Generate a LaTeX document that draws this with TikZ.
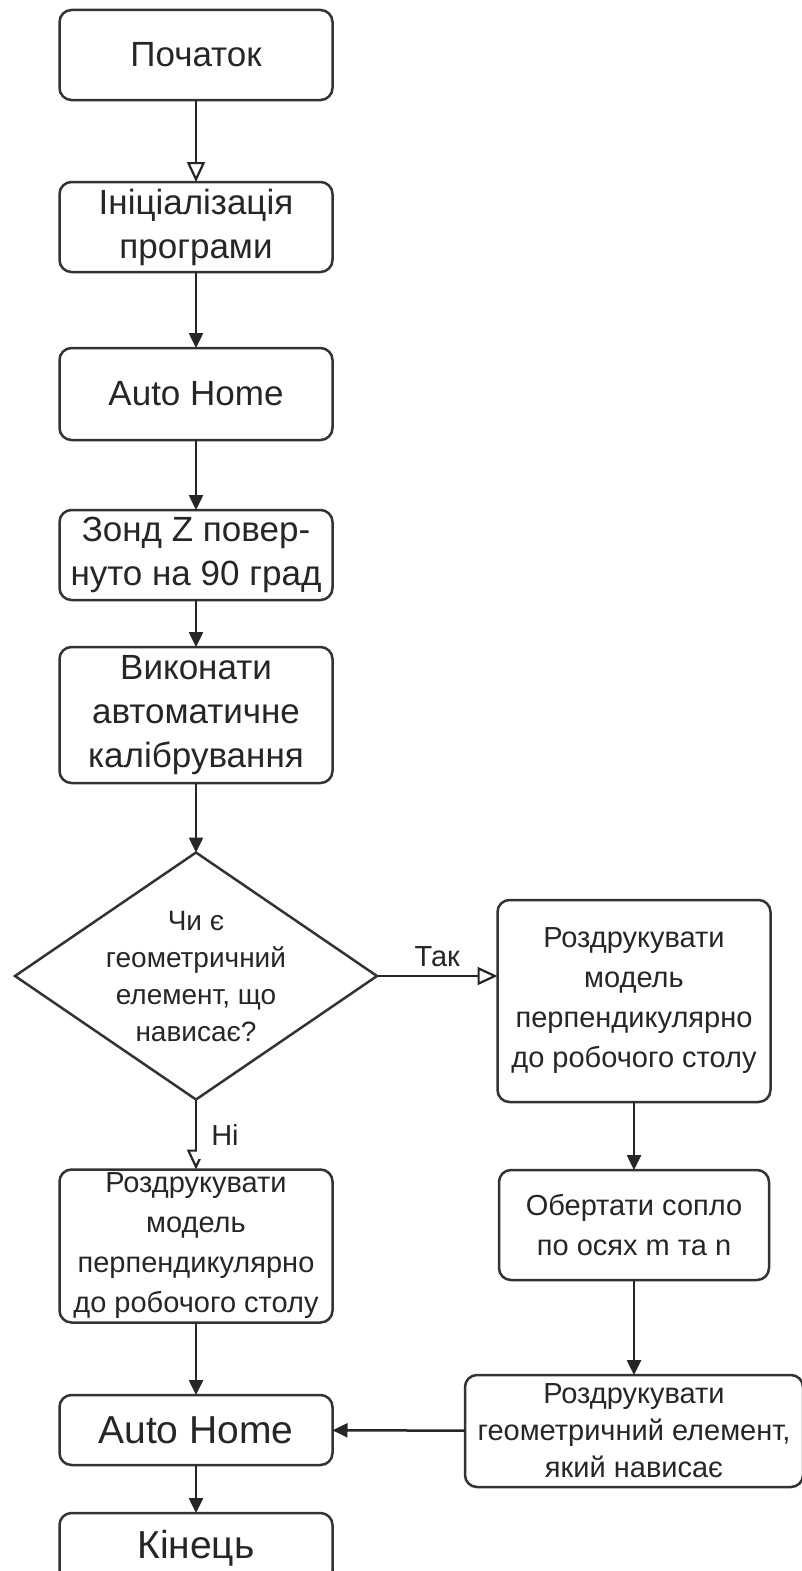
\documentclass[tikz,border=0pt]{standalone}
\usepackage{fontspec}
\setmainfont{Liberation Sans}
\usepackage{tkz-graph}
\usetikzlibrary{arrows.meta}
\usetikzlibrary{shapes}

\begin{document}
\begin{tikzpicture}[x = 1pt, y = -1pt]
\useasboundingbox (0,0) rectangle (802,1571);
\clip (0,0) rectangle (802,1571);
\tikzstyle{VertexStyle} = []
\tikzstyle{EdgeStyle} = [draw = black!85, line width = 2.5pt]
\tikzstyle{LabelStyle} = [font = \fontsize{29}{34}\selectfont, text = black!85]
\tikzstyle{boxStyle} = [shape = rectangle, rounded corners = 12pt, draw = black!80, line width = 2.5pt, inner sep = 0pt, align = center, text = black!85, minimum width = 273pt, font = \fontsize{35}{44}\selectfont]
\tikzstyle{bigStyle} = [boxStyle, minimum height = 70pt, font = \fontsize{39}{44}\selectfont]
\tikzstyle{sideStyle} = [boxStyle, font = \fontsize{29}{40}\selectfont]
\tikzstyle{wideStyle} = [boxStyle, minimum width = 338pt, font = \fontsize{29}{37}\selectfont]
\tikzstyle{decisionStyle} = [shape = diamond, draw = black!80, line width = 2.5pt, inner sep = -40pt, align = center, text = black!85, minimum width = 362pt, minimum height = 247pt, font = \fontsize{28}{37}\selectfont]
\tikzstyle{openArrow} = [-{Triangle[open, length = 20pt, width = 18pt, line width = 2.2pt]}]
\tikzstyle{fullArrow} = [-{Triangle[length = 15pt, width = 14pt]}]
\tikzstyle{thinArrow} = [-{Triangle[length = 15pt, width = 14pt]}, draw = black!60, fill = black!85, line width = 1.8pt]
\Vertex[style = {boxStyle, minimum height = 90pt}, x = 196, y = 55, L = {Початок}]{v0}
\Vertex[style = {boxStyle, minimum height = 90pt}, x = 196, y = 227, L = {Ініціалізація\\програми}]{v1}
\Vertex[style = {boxStyle, minimum height = 92pt}, x = 196, y = 394, L = {Auto Home}]{v2}
\Vertex[style = {boxStyle, minimum height = 90pt}, x = 196, y = 555, L = {Зонд Z повер-\\нуто на 90 град}]{v3}
\Vertex[style = {boxStyle, minimum height = 136pt}, x = 196, y = 715, L = {Виконати\\автоматичне\\калібрування}]{v4}
\Vertex[style = decisionStyle, x = 196, y = 976, L = {Чи є\\геометричний\\елемент, що\\нависає?}]{v5}
\Vertex[style = {sideStyle, minimum height = 202pt}, x = 634, y = 1001, L = {Роздрукувати\\модель\\перпендикулярно\\до робочого столу}]{v6}
\Vertex[style = {sideStyle, minimum height = 153pt}, x = 196, y = 1246, L = {Роздрукувати\\модель\\перпендикулярно\\до робочого столу}]{v7}
\Vertex[style = {sideStyle, minimum height = 110pt, minimum width = 270pt}, x = 634, y = 1225, L = {Обертати сопло\\по осях m та n}]{v8}
\Vertex[style = {wideStyle, minimum height = 112pt}, x = 634, y = 1431, L = {Роздрукувати\\геометричний елемент,\\який нависає}]{v9}
\Vertex[style = bigStyle, x = 196, y = 1430, L = {Auto Home}]{v10}
\Vertex[style = bigStyle, x = 196, y = 1548, L = {Кінець}]{v11}
\Edge[style = openArrow](v0)(v1)
\Edge[style = fullArrow](v1)(v2)
\Edge[style = fullArrow](v2)(v3)
\Edge[style = fullArrow](v3)(v4)
\Edge[style = fullArrow](v4)(v5)
\Edge[style = openArrow, label = {Так}, labelstyle = {above, inner sep = 8pt}](v5)(v6.west |- v5)
\Edge[style = openArrow, label = {Ні}, labelstyle = {right, inner sep = 14pt}](v5)(v7)
\Edge[style = thinArrow](v6)(v8)
\Edge[style = thinArrow](v8)(v9)
\Edge[style = fullArrow](v7)(v10)
\Edge[style = fullArrow](v9)(v10)
\Edge[style = fullArrow](v10)(v11)
\end{tikzpicture}
\end{document}
